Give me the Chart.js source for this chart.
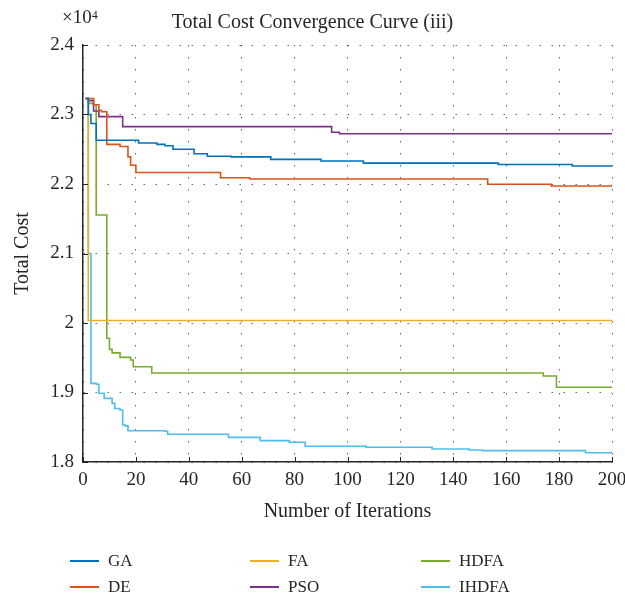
<!DOCTYPE html>
<html>
<head>
<meta charset="utf-8">
<title>Total Cost Convergence Curve (iii)</title>
<script src="https://cdn.jsdelivr.net/npm/chart.js@4.4.1/dist/chart.umd.min.js"></script>
<style>
  body { margin: 0; background: #fff; }
  #wrap { position: relative; width: 625px; height: 599px; font-family: 'Liberation Serif', 'DejaVu Serif', serif; color: #262626; }
  #exp { position: absolute; left: 62px; top: 5px; font-size: 19px; line-height: 24px; }
  #exp sup { font-size: 12px; position: relative; top: -2px; vertical-align: top; }
  .leg { position: absolute; display: flex; align-items: center; font-size: 17px; line-height: 20px; }
  .leg span { display: inline-block; width: 29px; height: 2px; margin-right: 9px; }
</style>
</head>
<body>
<div id="wrap">
  <canvas id="myChart" width="625" height="599"></canvas>
  <div id="exp">&times;10<sup>4</sup></div>
  <div id="legend"></div>
</div>
<script>
// values (iteration where the value starts, total cost)
var gaIter = [1, 2, 3, 5, 21, 28, 31, 34, 42, 47, 56, 71, 90, 106, 157, 185, 200];
var gaCost = [23230, 23000, 22870, 22630, 22590, 22570, 22550, 22500, 22436, 22400, 22390, 22355, 22330, 22300, 22280, 22260, 22260];

var deIter = [1, 4, 6, 7, 9, 14, 17, 18, 20, 52, 63, 153, 177, 200];
var deCost = [23230, 23140, 23060, 23040, 22570, 22540, 22390, 22270, 22165, 22090, 22072, 21996, 21971, 21971];

var faIter = [1, 2, 200];
var faCost = [23230, 20037, 20037];

var psoIter = [1, 2, 4, 6, 15, 94, 97, 200];
var psoCost = [23230, 23200, 23050, 22970, 22825, 22744, 22724, 22724];

var hdfaIter = [1, 2, 4, 5, 9, 10, 11, 14, 18, 19, 26, 174, 179, 200];
var hdfaCost = [23230, 23160, 23140, 21554, 19780, 19620, 19570, 19506, 19468, 19370, 19280, 19237, 19075, 19075];

var ihdfaIter = [1, 2, 3, 5, 6, 8, 11, 12, 14, 15, 16, 17, 31, 32, 55, 67, 78, 84, 107, 132, 146, 151, 190, 200];
var ihdfaCost = [23230, 21000, 19132, 19118, 18990, 18916, 18844, 18770, 18748, 18532, 18520, 18450, 18442, 18400, 18355, 18307, 18284, 18226, 18212, 18187, 18173, 18163, 18134, 18134];

var seriesNames = ["GA", "DE", "FA", "PSO", "HDFA", "IHDFA"];
var seriesColors = ["#0072BD", "#D95319", "#EDB120", "#7E2F8E", "#77AC30", "#4DBEEE"];
var seriesIters = [gaIter, deIter, faIter, psoIter, hdfaIter, ihdfaIter];
var seriesCosts = [gaCost, deCost, faCost, psoCost, hdfaCost, ihdfaCost];

var xTicksStep = 20;
var yTicksStep = 1000;

var serif = "'Liberation Serif', 'DejaVu Serif', serif";
var ink = "#262626";

function toPoints(iters, costs) {
    var pts = [];
    for (var i = 0; i < iters.length; i++) {
        pts.push({x: iters[i], y: costs[i]});
    }
    return pts;
}

var datasets = [];
for (var s = 0; s < seriesNames.length; s++) {
    datasets.push({
        label: seriesNames[s],
        data: toPoints(seriesIters[s], seriesCosts[s]),
        borderColor: seriesColors[s],
        backgroundColor: seriesColors[s],
        borderWidth: 1.6,
        pointRadius: 0,
        stepped: "before",
        fill: false
    });
}

// MATLAB style tick marks pointing into the plot
var innerTicks = {
    id: "innerTicks",
    afterDatasetsDraw: function (chart) {
        var ctx = chart.ctx, a = chart.chartArea;
        var xs = chart.scales.x, ys = chart.scales.y;
        ctx.save();
        ctx.strokeStyle = ink;
        ctx.lineWidth = 1;
        xs.ticks.forEach(function (t) {
            var px = Math.round(xs.getPixelForValue(t.value)) + 0.5;
            ctx.beginPath();
            ctx.moveTo(px, a.bottom);
            ctx.lineTo(px, a.bottom - 5);
            ctx.stroke();
        });
        ys.ticks.forEach(function (t) {
            var py = Math.round(ys.getPixelForValue(t.value)) + 0.5;
            ctx.beginPath();
            ctx.moveTo(a.left, py);
            ctx.lineTo(a.left + 5, py);
            ctx.stroke();
        });
        ctx.restore();
    }
};

new Chart("myChart", {
    type: "line",
    data: {datasets: datasets},
    plugins: [innerTicks],
    options: {
        responsive: false,
        animation: false,
        layout: {padding: {left: 0, right: 0, top: 0, bottom: 75}},
        plugins: {
            legend: {display: false},
            tooltip: {enabled: false},
            title: {
                display: true,
                text: "Total Cost Convergence Curve (iii)",
                color: ink,
                font: {family: serif, size: 20, weight: "normal"},
                padding: {top: 11, bottom: 10}
            }
        },
        scales: {
            x: {
                type: "linear",
                min: 0,
                max: 200,
                afterFit: function (sc) { sc.height = 62; sc.paddingRight = 13; sc.paddingLeft = 0; },
                ticks: {
                    stepSize: xTicksStep,
                    color: ink,
                    padding: 7,
                    maxRotation: 0,
                    font: {family: serif, size: 19}
                },
                grid: {color: "rgba(40,40,40,0.7)", lineWidth: 1, drawTicks: false},
                border: {display: true, color: ink, width: 1.5, dash: [1.5, 10.5]},
                title: {
                    display: true,
                    text: "Number of Iterations",
                    color: ink,
                    font: {family: serif, size: 20},
                    padding: 0
                }
            },
            y: {
                min: 18000,
                max: 24000,
                afterFit: function (sc) { sc.width = 83; },
                ticks: {
                    stepSize: yTicksStep,
                    color: ink,
                    padding: 9,
                    font: {family: serif, size: 19},
                    callback: function (v) { return String(+(v / 1e4).toFixed(1)); }
                },
                grid: {color: "rgba(40,40,40,0.7)", lineWidth: 1, drawTicks: false},
                border: {display: true, color: ink, width: 1.5, dash: [1.5, 10.5]},
                title: {
                    display: true,
                    text: "Total Cost",
                    color: ink,
                    font: {family: serif, size: 20},
                    padding: {top: 11, bottom: 0}
                }
            }
        }
    }
});

// legend laid out in three columns like the original
var legendPos = [[70, 551], [70, 577], [250, 551], [250, 577], [421, 551], [421, 577]];
var legendEl = document.getElementById("legend");
for (var k = 0; k < seriesNames.length; k++) {
    var item = document.createElement("div");
    item.className = "leg";
    item.style.left = legendPos[k][0] + "px";
    item.style.top = legendPos[k][1] + "px";
    var line = document.createElement("span");
    line.style.background = seriesColors[k];
    item.appendChild(line);
    item.appendChild(document.createTextNode(seriesNames[k]));
    legendEl.appendChild(item);
}
</script>
</body>
</html>
